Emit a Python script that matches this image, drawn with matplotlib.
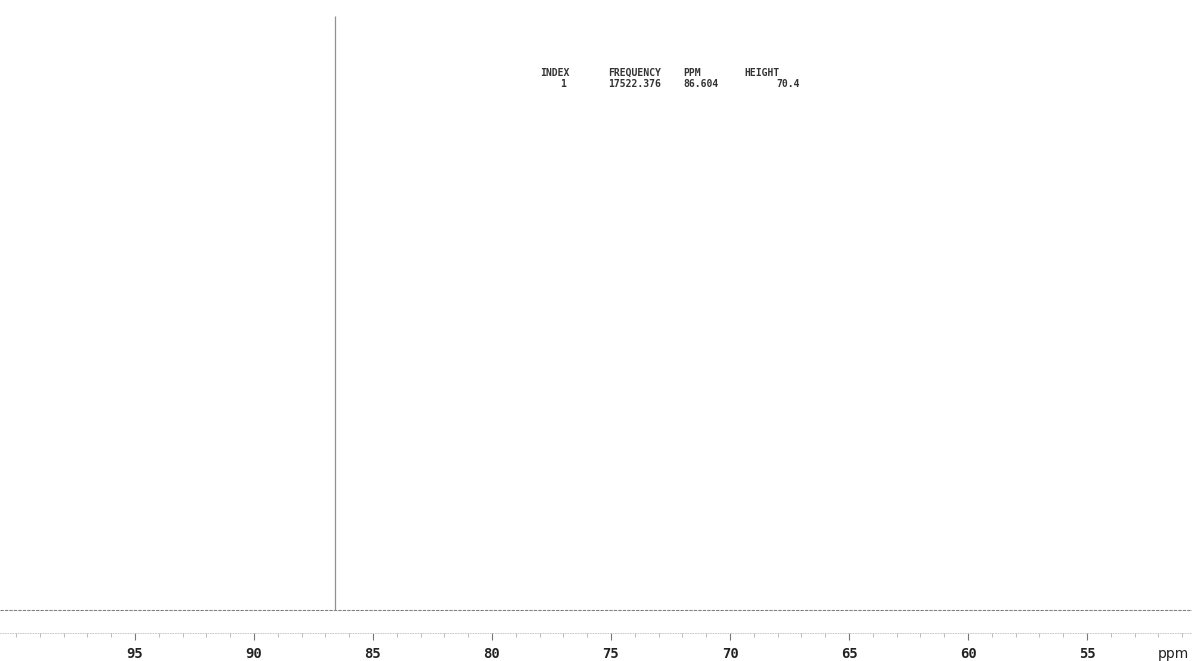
import matplotlib
matplotlib.use("Agg")
import matplotlib.pyplot as plt
from matplotlib.ticker import MultipleLocator

# peak table
peak_index = [1]
peak_freq = [17522.376]
peak_ppm = [86.604]
peak_height = [70.4]

# x range of the plot (ppm, reversed)
ppm_left, ppm_right = 100.67, 50.59
major_ticks = [95, 90, 85, 80, 75, 70, 65, 60, 55]

fig = plt.figure(figsize=(11.92, 6.61), dpi=100)
ax = fig.add_axes([0, 0, 1, 1])
ax.set_xlim(ppm_left, ppm_right)
ax.set_ylim(-6.04, 72.3)

# baseline and the single peak
ax.axhline(0, color="#808080", lw=0.8, ls=(0, (3, 1)))
ax.vlines(peak_ppm, 0, peak_height, color="#909090", lw=0.9)

# ppm ruler under the spectrum
for side in ["top", "left", "right"]:
    ax.spines[side].set_visible(False)
ax.spines["bottom"].set_position(("data", -2.73))
ax.spines["bottom"].set_color("#c0c0c0")
ax.spines["bottom"].set_linewidth(0.6)
ax.spines["bottom"].set_linestyle((0, (1, 2)))
ax.set_xticks(major_ticks)
ax.xaxis.set_minor_locator(MultipleLocator(1))
ax.tick_params(axis="x", which="major", direction="out", length=5, width=0.8,
               color="#777777", pad=5, labelsize=10, labelcolor="#222222")
ax.tick_params(axis="x", which="minor", direction="out", length=3, width=0.6,
               color="#b0b0b0")
for lab in ax.get_xticklabels():
    lab.set_family("DejaVu Sans Mono")
    lab.set_fontweight("bold")
ax.set_yticks([])
ax.patch.set_visible(False)

fig.text(1189 / 1192, 1 - 654 / 661, "ppm", fontsize=10, color="#222222",
         family="DejaVu Sans", va="center", ha="right")

# peak listing
hdr_y = 1 - 73 / 661
row_y = 1 - 84 / 661
txt = dict(fontsize=7, family="DejaVu Sans Mono", fontweight="bold",
           color="#333333", va="center")
fig.text(540 / 1192, hdr_y, "INDEX", ha="left", **txt)
fig.text(608 / 1192, hdr_y, "FREQUENCY", ha="left", **txt)
fig.text(683 / 1192, hdr_y, "PPM", ha="left", **txt)
fig.text(744 / 1192, hdr_y, "HEIGHT", ha="left", **txt)
for i, f, p, h in zip(peak_index, peak_freq, peak_ppm, peak_height):
    fig.text(563 / 1192, row_y, f"{i}", ha="center", **txt)
    fig.text(608 / 1192, row_y, f"{f:.3f}", ha="left", **txt)
    fig.text(683 / 1192, row_y, f"{p:.3f}", ha="left", **txt)
    fig.text(800 / 1192, row_y, f"{h:.1f}", ha="right", **txt)

fig.savefig("out.png", dpi=100)
